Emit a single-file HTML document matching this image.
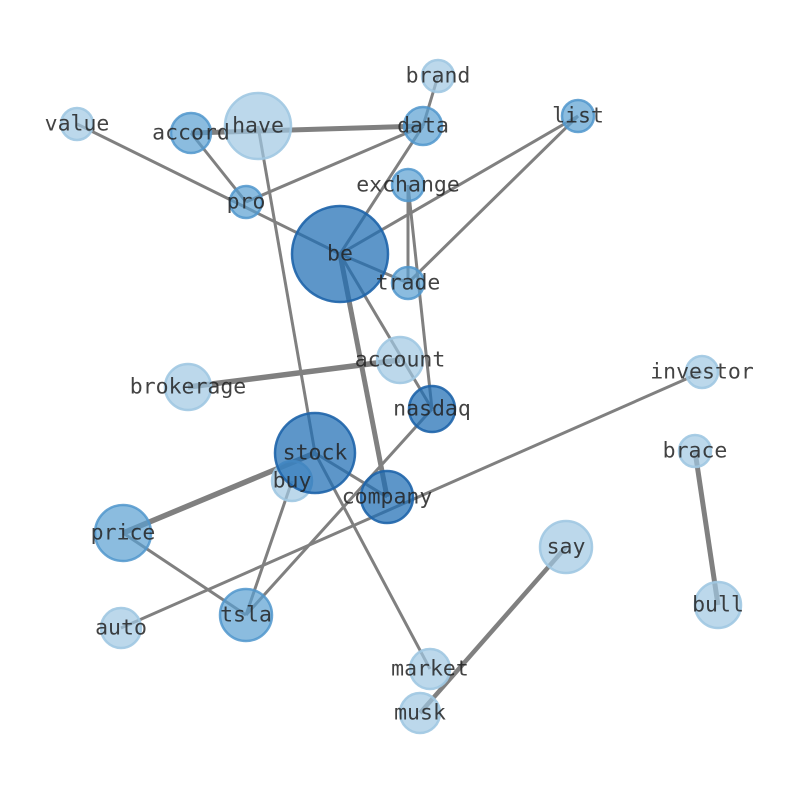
<!DOCTYPE html>
<html><head><style>body{margin:0;background:#fff}svg{display:block}text{font-family:"DejaVu Sans Mono","Liberation Mono",monospace;font-size:21.5px;fill:#222;fill-opacity:.85;text-anchor:middle;dominant-baseline:central}</style></head>
<body>
<svg width="794" height="790" viewBox="0 0 794 790">
<g stroke="#808080" stroke-width="3" fill="none">
<line x1="77" y1="124" x2="340" y2="254"/>
<line x1="191" y1="133" x2="423" y2="126" stroke-width="5"/>
<line x1="191" y1="133" x2="246" y2="202"/>
<line x1="258" y1="126" x2="315" y2="453"/>
<line x1="246" y1="202" x2="423" y2="126"/>
<line x1="438" y1="76" x2="423" y2="126"/>
<line x1="423" y1="126" x2="340" y2="254"/>
<line x1="578" y1="116" x2="340" y2="254"/>
<line x1="578" y1="116" x2="408" y2="283"/>
<line x1="408" y1="185" x2="408" y2="283"/>
<line x1="408" y1="185" x2="432" y2="409"/>
<line x1="340" y1="254" x2="408" y2="283"/>
<line x1="340" y1="254" x2="387" y2="497" stroke-width="5"/>
<line x1="340" y1="254" x2="432" y2="409"/>
<line x1="188" y1="387" x2="400" y2="360" stroke-width="5.5"/>
<line x1="315" y1="453" x2="123" y2="533" stroke-width="5.5"/>
<line x1="315" y1="453" x2="387" y2="497"/>
<line x1="315" y1="453" x2="430" y2="669"/>
<line x1="292" y1="481" x2="246" y2="615"/>
<line x1="123" y1="533" x2="246" y2="615"/>
<line x1="121" y1="628" x2="702" y2="372"/>
<line x1="432" y1="409" x2="246" y2="615"/>
<line x1="566" y1="547" x2="420" y2="713" stroke-width="4.5"/>
<line x1="695" y1="451" x2="718" y2="605" stroke-width="5"/>
</g>
<g stroke-width="2.5">
<g fill="rgba(160,200,226,0.7)" stroke="rgba(160,200,226,0.9)">
<circle cx="77" cy="124" r="16"/><circle cx="258" cy="126" r="33"/><circle cx="438" cy="76" r="16"/>
<circle cx="400" cy="360" r="23"/><circle cx="188" cy="387" r="23"/><circle cx="702" cy="372" r="16"/>
<circle cx="292" cy="481" r="20"/><circle cx="695" cy="451" r="16"/><circle cx="566" cy="547" r="26"/>
<circle cx="718" cy="605" r="23"/><circle cx="121" cy="628" r="20"/><circle cx="430" cy="669" r="20"/><circle cx="420" cy="713" r="20"/>
</g>
<g fill="rgba(90,160,210,0.7)" stroke="rgba(80,150,205,0.85)">
<circle cx="191" cy="133" r="20"/><circle cx="423" cy="126" r="19"/><circle cx="578" cy="116" r="16"/>
<circle cx="408" cy="185" r="16"/><circle cx="246" cy="202" r="16"/><circle cx="408" cy="283" r="16"/>
<circle cx="123" cy="533" r="28"/><circle cx="246" cy="615" r="26"/>
</g>
<g fill="rgba(30,110,180,0.72)" stroke="rgba(30,100,170,0.9)">
<circle cx="340" cy="254" r="48"/><circle cx="315" cy="453" r="40"/><circle cx="387" cy="497" r="26"/><circle cx="432" cy="409" r="23"/>
</g>
</g>
<g>
<text x="77" y="124">value</text><text x="191" y="133">accord</text><text x="258" y="126">have</text>
<text x="438" y="76">brand</text><text x="423" y="126">data</text><text x="578" y="116">list</text>
<text x="408" y="185">exchange</text><text x="246" y="202">pro</text><text x="340" y="254">be</text>
<text x="408" y="283">trade</text><text x="400" y="360">account</text><text x="188" y="387">brokerage</text>
<text x="702" y="372">investor</text><text x="432" y="409">nasdaq</text><text x="315" y="453">stock</text>
<text x="292" y="481">buy</text><text x="387" y="497">company</text><text x="695" y="451">brace</text>
<text x="123" y="533">price</text><text x="566" y="547">say</text><text x="718" y="605">bull</text>
<text x="121" y="628">auto</text><text x="246" y="615">tsla</text><text x="430" y="669">market</text><text x="420" y="713">musk</text>
</g>
</svg>
</body></html>
